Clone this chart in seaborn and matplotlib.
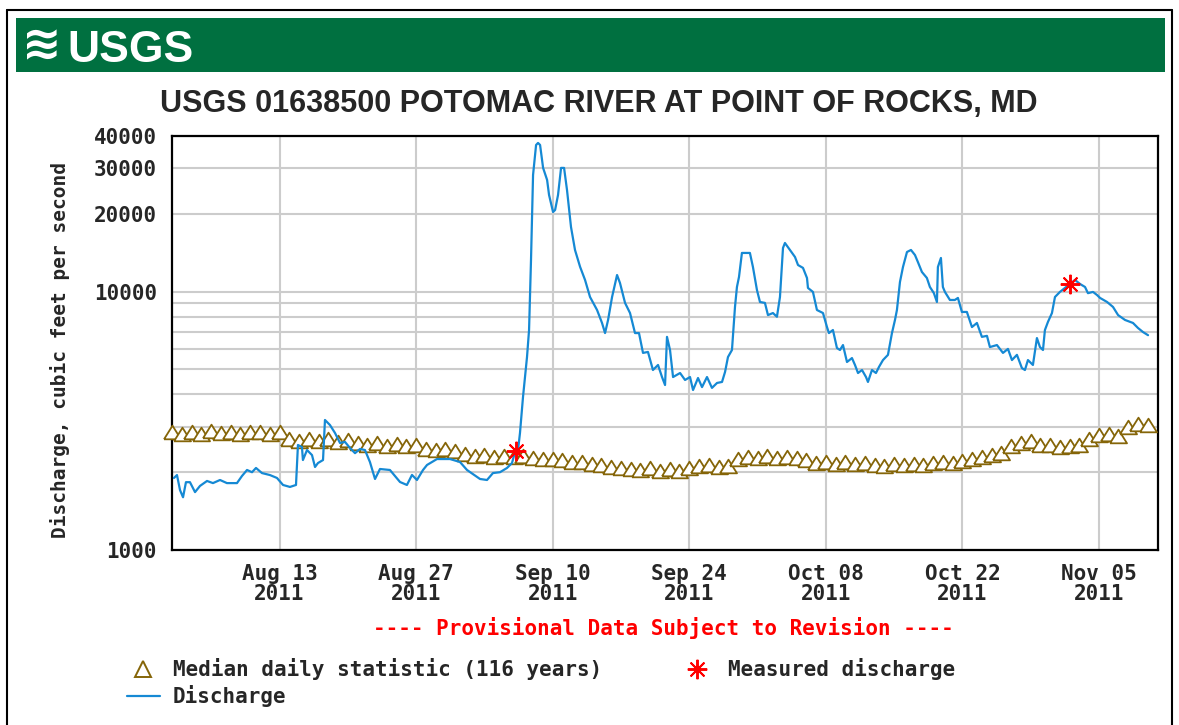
import numpy as np
import pandas as pd
import matplotlib
matplotlib.use("Agg")
import matplotlib.pyplot as plt
import matplotlib.dates as mdates
from matplotlib.lines import Line2D
from matplotlib.patches import Rectangle
from matplotlib.ticker import FixedLocator, NullFormatter
import seaborn as sns

# ---------------- data ----------------
start_date = "2011-08-02"
end_date = "2011-11-11"

# Discharge (cfs): time in days after Aug 2 2011 00:00
discharge_day = [
    0.18, 0.49, 0.80, 1.11, 1.41, 1.82, 2.34, 2.85, 3.57, 4.18, 4.90, 5.61, 6.64, 7.15, 7.67,
    8.18, 8.59, 9.20, 10.02, 10.74, 11.36, 12.07, 12.69, 12.89, 13.30, 13.40, 13.82, 14.33,
    14.64, 14.94, 15.46, 15.66, 16.17, 16.69, 17.20, 17.71, 18.23, 18.74, 19.25, 19.76, 20.27,
    20.79, 21.30, 22.32, 23.35, 24.06, 24.58, 25.09, 25.71, 26.12, 27.14, 28.48, 29.50, 30.22,
    31.55, 32.27, 32.88, 33.60, 34.32, 34.83, 35.14, 35.45, 35.65, 35.96, 36.37, 36.58, 36.78,
    36.99, 37.30, 37.50, 37.71, 38.02, 38.43, 38.63, 39.04, 39.25, 39.55, 39.86, 40.17, 40.47,
    40.88, 41.29, 41.81, 42.32, 42.83, 43.55, 44.06, 44.37, 44.68, 45.09, 45.60, 45.90, 46.42,
    46.93, 47.44, 47.85, 48.26, 48.77, 49.28, 49.80, 50.21, 50.52, 50.72, 51.03, 51.34, 52.06,
    52.57, 53.08, 53.39, 53.90, 54.31, 54.82, 55.33, 55.85, 56.36, 56.67, 56.97, 57.38, 57.69,
    57.89, 58.10, 58.40, 59.22, 59.53, 59.94, 60.25, 60.76, 61.07, 61.58, 61.99, 62.30, 62.61,
    62.81, 63.33, 63.84, 64.15, 64.66, 65.07, 65.17, 65.68, 66.09, 66.71, 67.12, 67.32, 67.73,
    68.14, 68.45, 68.76, 69.17, 69.68, 69.99, 70.30, 70.71, 71.12, 71.32, 71.73, 72.14, 72.45,
    72.86, 73.37, 73.78, 74.09, 74.29, 74.60, 74.91, 75.32, 75.73, 76.14, 76.44, 76.85, 77.36,
    77.67, 78.08, 78.39, 78.49, 78.80, 79.00, 79.21, 79.72, 80.23, 80.54, 80.95, 81.46, 81.98,
    82.49, 83.00, 83.52, 83.82, 84.54, 85.16, 85.67, 86.08, 86.59, 87.10, 87.41, 87.72, 88.23,
    88.64, 88.95, 89.26, 89.46, 89.77, 90.18, 90.49, 91.00, 91.51, 92.03, 92.54, 93.06, 93.57,
    93.87, 94.39, 94.80, 95.11, 95.83, 96.44, 96.96, 97.67, 98.49, 99.00, 99.52, 100.03,
]
discharge_cfs = [
    1900, 1950, 1706, 1600, 1830, 1830, 1675, 1770, 1850, 1815, 1866, 1815, 1815, 1933, 2040,
    2000, 2077, 1985, 1950, 1900, 1785, 1754, 1785, 2549, 2503, 2229, 2437, 2330,
    2095, 2170, 2229, 3185, 3046, 2836, 2595, 2620, 2480, 2370, 2460, 2437, 2190,
    1883, 2058, 2040, 1833, 1785, 1952, 1866, 2040, 2133, 2249, 2249, 2190, 2040,
    1883, 1866, 1985, 2000, 2077, 2170, 2393, 2437, 2836, 3910, 5580, 7100, 13250,
    28260, 36930, 37600, 36930, 30100, 27040, 23650, 20320, 20690, 23650, 30100, 30100, 24730,
    17780, 14490, 12470, 11090, 9530, 8487, 7560, 6910, 7766, 9530, 11590, 10800, 9040,
    8260, 6910, 6910, 5790, 5840, 4972, 5200, 4670, 4350, 6680, 5942, 4670, 4840,
    4549, 4670, 4160, 4630, 4270, 4670, 4240, 4430, 4470, 4885, 5580, 5942, 8720,
    10420, 11390, 14110, 14110, 12450, 10145, 9115, 9040, 8110, 8260, 7990, 9530, 14750,
    15420, 14490, 13610, 12670, 12350, 11290, 10330, 9970, 8487, 8260, 7290, 6910, 7100,
    6050, 5942, 6210, 5340, 5530, 5200, 4840, 4972, 4670, 4470, 4972, 4840, 5110,
    5433, 5690, 6910, 7766, 8487, 10890, 12450, 14230, 14490, 13850, 13010, 11910, 11290,
    10420, 9860, 9115, 12450, 13490, 10420, 9970, 9280, 9280, 9450, 8340, 8340, 7290,
    7560, 6680, 6740, 6100, 6210, 5790, 6000, 5433, 5690, 5060, 4972, 5433, 5200,
    6610, 6100, 5942, 7100, 7630, 8260, 9530, 9970, 10330, 10700, 11090, 10700, 10420,
    9860, 9970, 9700, 9450, 9115, 8720, 8110, 7766, 7560, 7230, 6970, 6780,
]

# Median daily statistic (116 years), one value per day from Aug 2 2011
median_cfs = [
    2850, 2800, 2870, 2820, 2880, 2830, 2860, 2800, 2870, 2850, 2810, 2860,
    2680, 2640, 2700, 2650, 2680, 2620, 2660,
    2600, 2560, 2590, 2530, 2570, 2520, 2550,
    2450, 2430, 2460, 2410, 2350, 2320, 2340,
    2300, 2320, 2290, 2310, 2270, 2250, 2240,
    2220, 2200, 2190, 2160, 2130, 2100, 2080,
    2060, 2040, 2080, 2020, 2050, 2030, 2070,
    2110, 2140, 2090, 2120,
    2250, 2300, 2280, 2320, 2260, 2300, 2270,
    2220, 2180, 2200, 2160, 2190, 2150, 2170, 2140, 2120,
    2150, 2130, 2160, 2140, 2170, 2190, 2180, 2210, 2240,
    2300, 2340, 2380,
    2520, 2600, 2650, 2560, 2540,
    2500, 2520, 2550,
    2700, 2780, 2800, 2760,
    3000, 3080, 3050,
]

# Measured discharge
measured_day = [35.2, 92.0]
measured_cfs = [2420, 10700]

tick_dates = ["2011-08-13", "2011-08-27", "2011-09-10", "2011-09-24",
              "2011-10-08", "2011-10-22", "2011-11-05"]
tick_labels = ["Aug 13\n2011", "Aug 27\n2011", "Sep 10\n2011", "Sep 24\n2011",
               "Oct 08\n2011", "Oct 22\n2011", "Nov 05\n2011"]
y_ticks = [1000, 10000, 20000, 30000, 40000]
y_tick_labels = ["1000", "10000", "20000", "30000", "40000"]
y_minor_grid = [2000, 3000, 4000, 5000, 6000, 7000, 8000, 9000]

title = "USGS 01638500 POTOMAC RIVER AT POINT OF ROCKS, MD"
y_label = "Discharge, cubic feet per second"
provisional = "---- Provisional Data Subject to Revision ----"
legend_median = "Median daily statistic (116 years)"
legend_measured = "Measured discharge"
legend_discharge = "Discharge"

# ---------------- style ----------------
BLUE = "#1589D4"
BROWN = "#856508"
GREEN = "#007040"
GRID = "#CCCCCC"
MONO = "DejaVu Sans Mono"
TRI = [(-1.0, -0.8), (1.0, -0.8), (0.0, 0.8), (-1.0, -0.8)]

sns.set_style("white")
plt.rcParams["font.family"] = [MONO]
plt.rcParams["font.weight"] = "bold"

W, H = 1179, 725
fig = plt.figure(figsize=(W / 100, H / 100), dpi=100)
fig.patch.set_facecolor("white")


def fx(x):
    return x / W


def fy(y):
    return 1 - y / H


ax = fig.add_axes([fx(172.2), fy(550), fx(1157.5) - fx(172.2), fy(136) - fy(550)])

t0 = pd.Timestamp(start_date)
df_q = pd.DataFrame({
    "time": t0 + pd.to_timedelta(discharge_day, unit="D"),
    "cfs": discharge_cfs,
})
df_med = pd.DataFrame({
    "time": pd.date_range(start_date, periods=len(median_cfs), freq="D"),
    "cfs": median_cfs,
})
df_meas = pd.DataFrame({
    "time": t0 + pd.to_timedelta(measured_day, unit="D"),
    "cfs": measured_cfs,
})

sns.scatterplot(data=df_med, x="time", y="cfs", ax=ax, marker=TRI, s=150,
                facecolor="white", edgecolor=BROWN, linewidth=1.3,
                zorder=3, clip_on=False, legend=False)
sns.lineplot(data=df_q, x="time", y="cfs", ax=ax, color=BLUE, linewidth=1.6,
             estimator=None, zorder=4, legend=False)
sns.lineplot(data=df_meas, x="time", y="cfs", ax=ax, color="red", linestyle="",
             marker=(8, 2, 0), markersize=14, markeredgewidth=1.4,
             markeredgecolor="red", markerfacecolor="red",
             estimator=None, zorder=5, legend=False)

ax.set_yscale("log")
ax.set_ylim(1000, 40000)
ax.set_xlim(mdates.date2num(pd.Timestamp(start_date)), mdates.date2num(pd.Timestamp(end_date)))

ax.set_yticks(y_ticks)
ax.set_yticklabels(y_tick_labels)
ax.yaxis.set_minor_locator(FixedLocator(y_minor_grid))
ax.yaxis.set_minor_formatter(NullFormatter())
ax.set_xticks([mdates.date2num(pd.Timestamp(d)) for d in tick_dates])
ax.set_xticklabels(tick_labels, linespacing=1.0)

ax.grid(True, which="both", color=GRID, linewidth=1.5)
ax.set_axisbelow(True)
ax.tick_params(axis="both", which="both", length=0, labelsize=15)
ax.tick_params(axis="x", pad=10)
ax.tick_params(axis="y", pad=11)
ax.set_xlabel("")
ax.set_ylabel("")
for s in ax.spines.values():
    s.set_visible(True)
    s.set_color("black")
    s.set_linewidth(1.6)

# ---------------- header / decorations ----------------
fig.add_artist(Rectangle((fx(16), fy(72)), fx(1165) - fx(16), fy(18) - fy(72),
                         transform=fig.transFigure, facecolor=GREEN, edgecolor="none"))
fig.text(fx(22), fy(59), "\u224B", color="white", fontsize=34, fontweight="bold",
         family=["DejaVu Sans"], ha="left", va="baseline")
fig.text(fx(67), fy(62), "USGS", color="white", fontsize=32, fontweight="bold",
         family=["Liberation Sans", "DejaVu Sans"], ha="left", va="baseline")

# outer frame
for xs, ys in [((7, 7), (10, 740)), ((7, 1172), (10, 10)), ((1172, 1172), (10, 740))]:
    fig.add_artist(Line2D([fx(xs[0]), fx(xs[1])], [fy(ys[0]), fy(ys[1])],
                          transform=fig.transFigure, color="black", linewidth=1.5))

fig.text(fx(598.5), fy(112), title, fontsize=22, fontweight="bold",
         family=["Liberation Sans", "DejaVu Sans"], ha="center", va="baseline")

fig.text(fx(60), fy(350), y_label, rotation=90, fontsize=14, ha="center", va="center")

fig.text(fx(663), fy(635), provisional, color="red", fontsize=15, ha="center", va="baseline")

# legend
fig.add_artist(Line2D([fx(143)], [fy(669)], transform=fig.transFigure, marker="^",
                      markersize=12, markerfacecolor="white", markeredgecolor=BROWN,
                      markeredgewidth=1.4, linestyle=""))
fig.text(fx(173), fy(676), legend_median, fontsize=15, ha="left", va="baseline")
fig.add_artist(Line2D([fx(697)], [fy(669)], transform=fig.transFigure, marker=(8, 2, 0),
                      markersize=14, color="red", markeredgewidth=1.4, linestyle=""))
fig.text(fx(728), fy(676), legend_measured, fontsize=15, ha="left", va="baseline")
fig.add_artist(Line2D([fx(127), fx(160)], [fy(696), fy(696)], transform=fig.transFigure,
                      color=BLUE, linewidth=1.6))
fig.text(fx(173), fy(703), legend_discharge, fontsize=15, ha="left", va="baseline")

fig.savefig("out.png", dpi=100)
